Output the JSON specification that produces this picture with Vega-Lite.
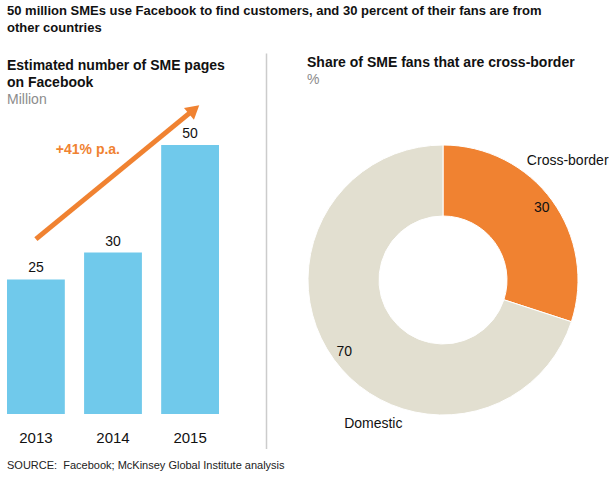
{
  "$schema": "https://vega.github.io/schema/vega-lite/v6.json",
  "padding": {"left": 7, "top": 4, "right": 0, "bottom": 0},
  "background": "white",
  "config": {
    "view": {"stroke": null},
    "font": "Liberation Sans",
    "title": {"anchor": "start", "font": "Liberation Sans", "fontSize": 14, "fontWeight": "bold", "color": "#111111", "lineHeight": 17, "subtitleFontSize": 14, "subtitleColor": "#8c8c8c", "subtitleFont": "Liberation Sans", "subtitlePadding": 3, "offset": 4, "frame": "group"}
  },
  "title": {"text": ["50 million SMEs use Facebook to find customers, and 30 percent of their fans are from", "other countries"], "font": "Liberation Sans", "fontSize": 13, "lineHeight": 17, "offset": 18},
  "vconcat": [
    {
      "title": {"text": "SOURCE:\u00a0 Facebook; McKinsey Global Institute analysis", "orient": "bottom", "fontSize": 11, "fontWeight": "normal", "color": "#222222", "offset": 10},
      "spacing": 40,
      "hconcat": [
        {
          "width": 212,
          "height": 303,
          "title": {"text": ["Estimated number of SME pages", "on Facebook"], "subtitle": "Million", "offset": -2},
          "layer": [
            {
              "data": {"values": [{"year": "2013", "pages": 25}, {"year": "2014", "pages": 30}, {"year": "2015", "pages": 50}]},
              "mark": {"type": "bar", "color": "#70C9EB"},
              "encoding": {
                "x": {"field": "year", "type": "ordinal", "scale": {"paddingInner": 0.25, "paddingOuter": 0}, "axis": {"title": null, "ticks": false, "domain": false, "labelFontSize": 15, "labelColor": "#111111", "labelPadding": 16, "labelAngle": 0}},
                "y": {"field": "pages", "type": "quantitative", "scale": {"domain": [0, 56.3], "nice": false}, "axis": null}
              }
            },
            {
              "data": {"values": [{"year": "2013", "pages": 25}, {"year": "2014", "pages": 30}, {"year": "2015", "pages": 50}]},
              "mark": {"type": "text", "baseline": "bottom", "dy": -4, "fontSize": 14, "color": "#111111"},
              "encoding": {
                "x": {"field": "year", "type": "ordinal"},
                "y": {"field": "pages", "type": "quantitative"},
                "text": {"field": "pages"}
              }
            },
            {
              "data": {"values": [{"from": "2013", "to": "2015", "start": 32.5, "end": 56}]},
              "mark": {"type": "rule", "color": "#F08231", "strokeWidth": 5},
              "encoding": {
                "x": {"field": "from", "type": "ordinal"},
                "x2": {"field": "to"},
                "y": {"field": "start", "type": "quantitative"},
                "y2": {"field": "end"}
              }
            },
            {
              "data": {"values": [{"to": "2015", "end": 56}]},
              "mark": {"type": "point", "shape": "triangle-up", "filled": true, "opacity": 1, "size": 240, "angle": 50, "color": "#F08231", "xOffset": 4, "yOffset": -3},
              "encoding": {
                "x": {"field": "to", "type": "ordinal"},
                "y": {"field": "end", "type": "quantitative"}
              }
            },
            {
              "data": {"values": [{"year": "2014", "level": 49, "note": "+41% p.a."}]},
              "mark": {"type": "text", "align": "right", "baseline": "middle", "dx": 7, "fontSize": 14, "fontWeight": "bold", "color": "#F08231"},
              "encoding": {
                "x": {"field": "year", "type": "ordinal"},
                "y": {"field": "level", "type": "quantitative"},
                "text": {"field": "note"}
              }
            }
          ]
        },
        {
          "spacing": 38,
          "hconcat": [
            {
              "width": 1,
              "height": 338,
              "data": {"values": [{"bottom": 0, "top": 1.17}]},
              "mark": {"type": "rule", "color": "#cccccc", "strokeWidth": 1.5},
              "encoding": {
                "y": {"field": "bottom", "type": "quantitative", "scale": {"domain": [0, 1]}, "axis": null},
                "y2": {"field": "top"}
              }
            },
            {
              "width": 272,
              "height": 338,
              "title": {"text": "Share of SME fans that are cross-border", "subtitle": "%", "offset": 24},
              "data": {"values": [{"type": "Cross-border", "share": 30}, {"type": "Domestic", "share": 70}]},
              "encoding": {
                "theta": {"field": "share", "type": "quantitative", "stack": true},
                "color": {"field": "type", "type": "nominal", "scale": {"domain": ["Cross-border", "Domestic"], "range": ["#F08231", "#E2DFD0"]}, "legend": null}
              },
              "layer": [
                {"mark": {"type": "arc", "outerRadius": 135, "innerRadius": 64, "stroke": "white", "strokeWidth": 1}},
                {"mark": {"type": "text", "radius": 122, "fontSize": 14}, "encoding": {"text": {"field": "share"}, "color": {"value": "#111111"}}},
                {"mark": {"type": "text", "radius": 122, "fontSize": 14, "dx": 26, "dy": -47}, "encoding": {"text": {"condition": {"test": "datum.type === 'Cross-border'", "field": "type"}, "value": ""}, "color": {"value": "#111111"}}},
                {"mark": {"type": "text", "radius": 122, "fontSize": 14, "dx": 29, "dy": 72}, "encoding": {"text": {"condition": {"test": "datum.type === 'Domestic'", "field": "type"}, "value": ""}, "color": {"value": "#111111"}}}
              ]
            }
          ]
        }
      ]
    }
  ]
}
